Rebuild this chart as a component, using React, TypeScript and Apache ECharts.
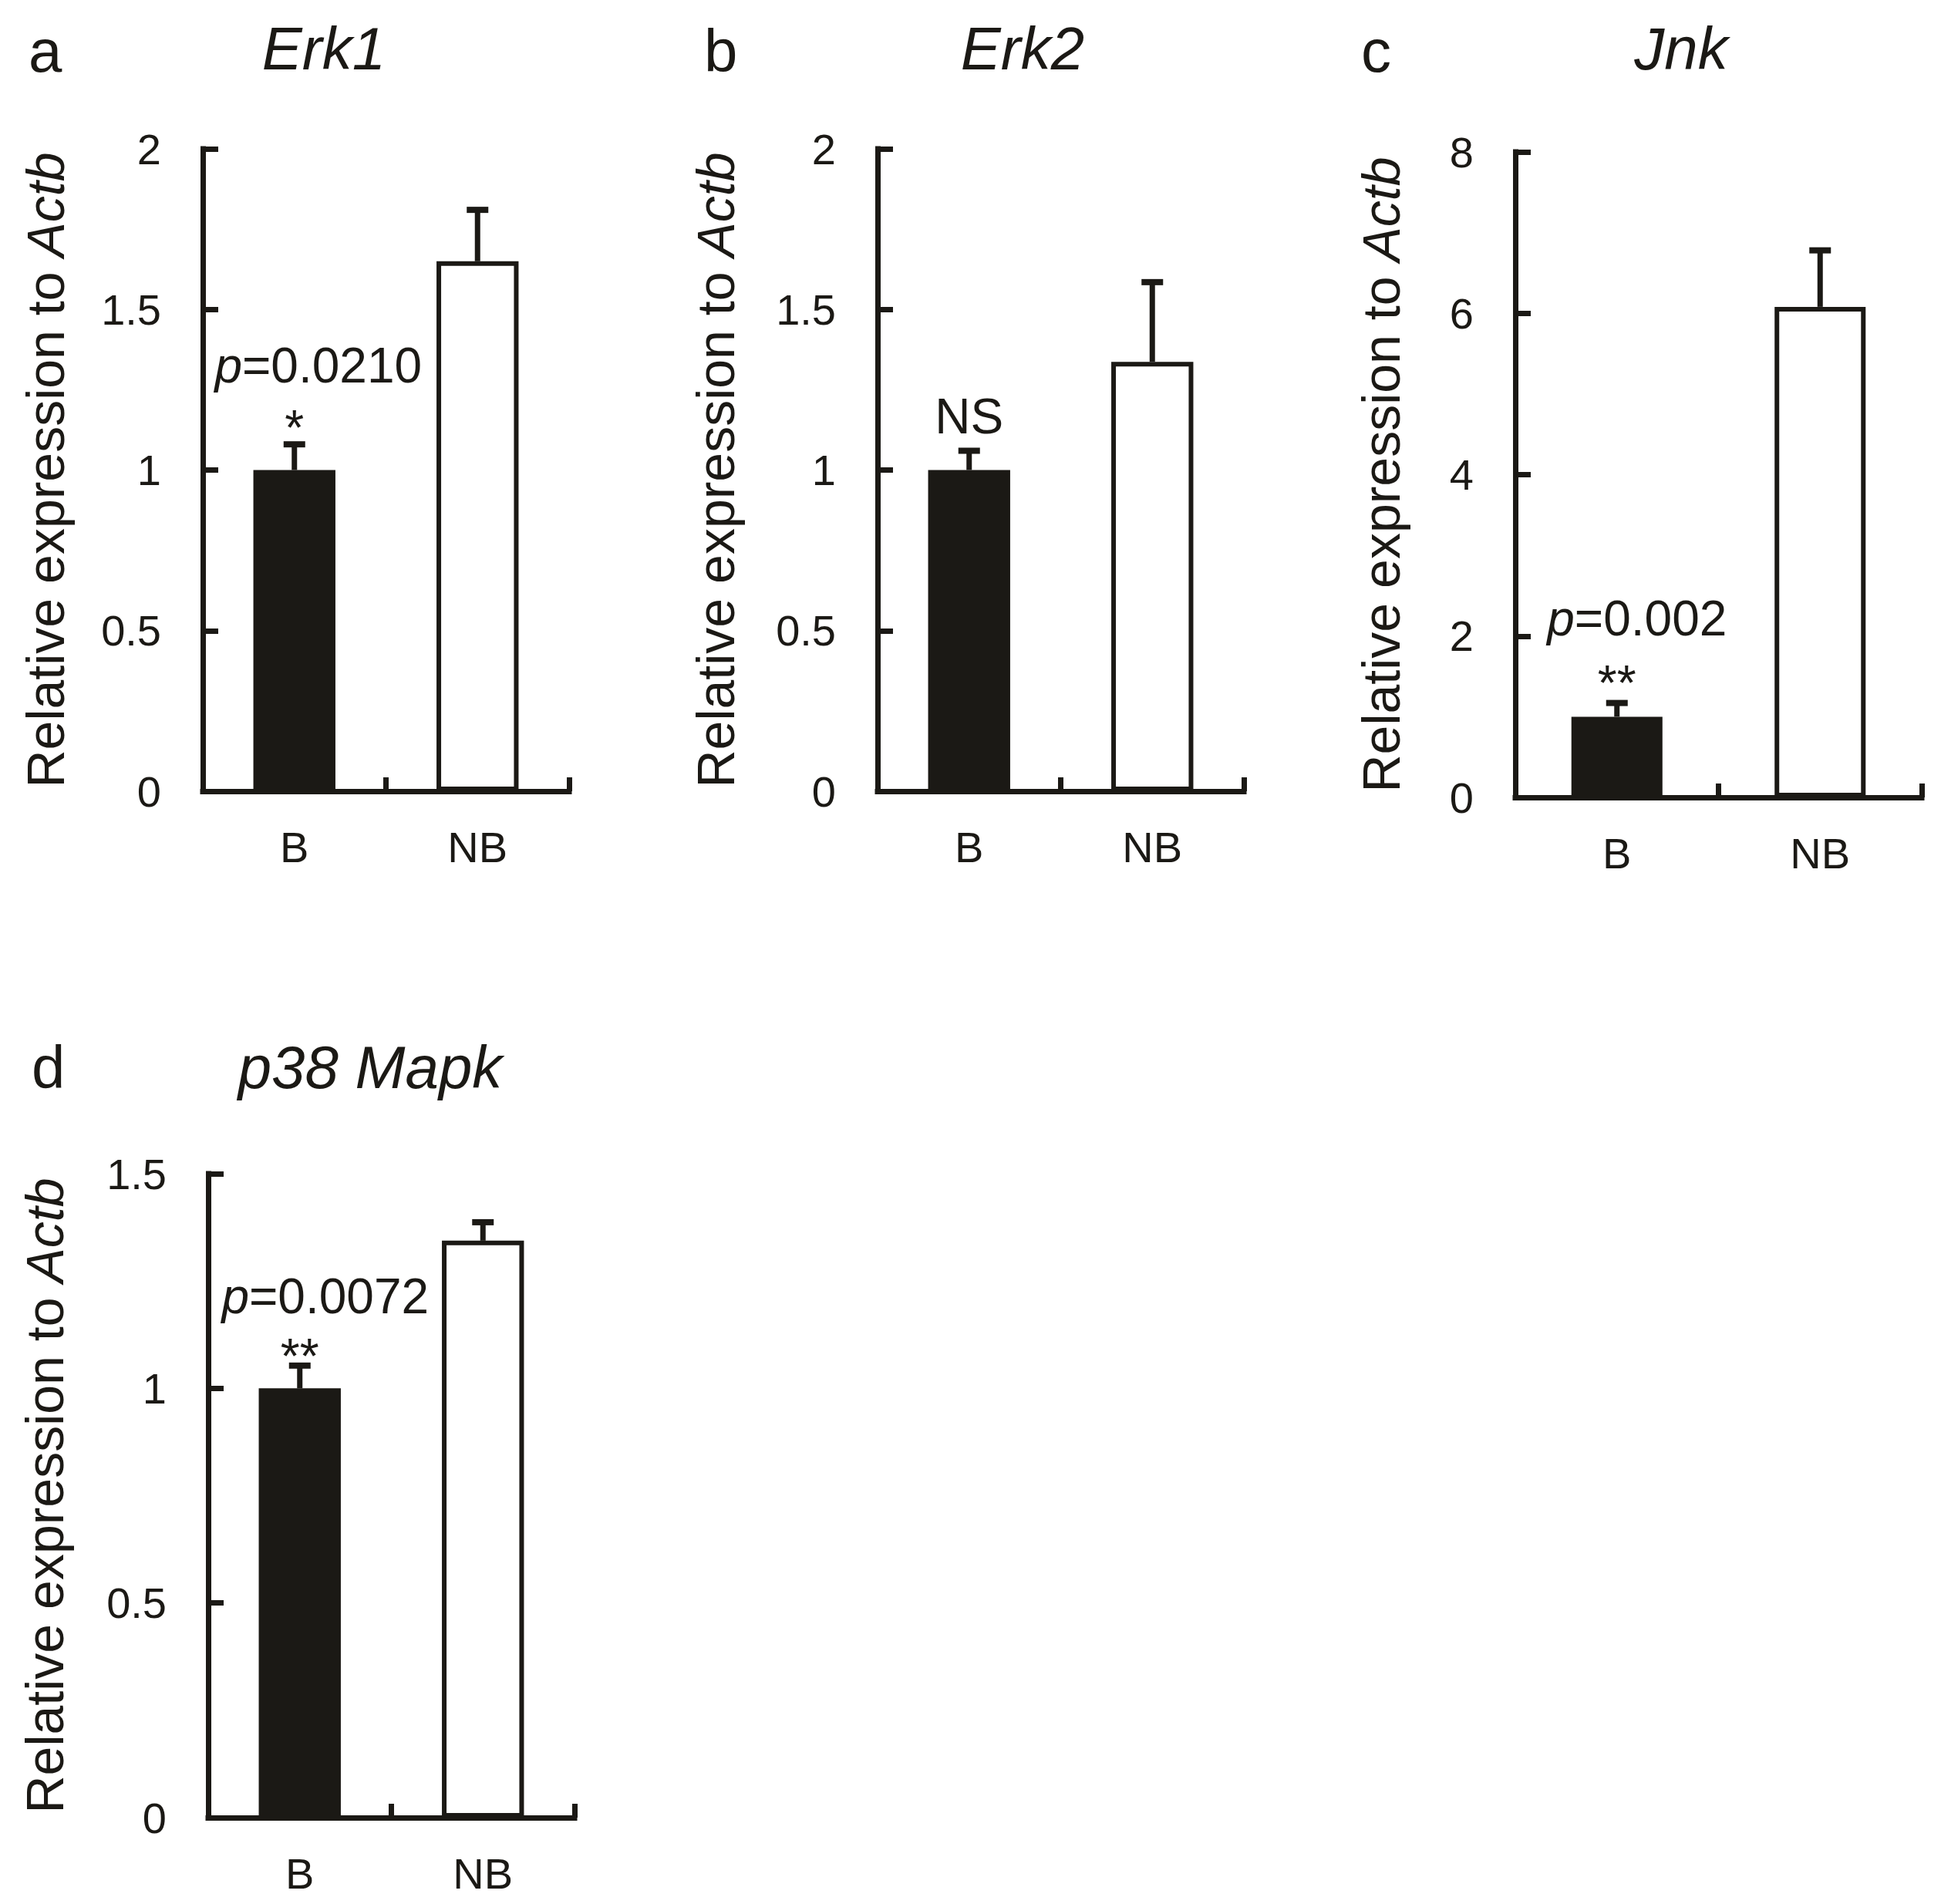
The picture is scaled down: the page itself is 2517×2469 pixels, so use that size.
import React, { useEffect, useRef } from "react";
import * as echarts from "echarts";

// ---- data ----
const categories = ["B", "NB"];

const erk1Mean = [1.0, 1.65];
const erk1ErrTop = [1.08, 1.81];
const erk1Ticks = [0, 0.5, 1, 1.5, 2];

const erk2Mean = [1.0, 1.337];
const erk2ErrTop = [1.06, 1.585];
const erk2Ticks = [0, 0.5, 1, 1.5, 2];

const jnkMean = [1.0, 6.08];
const jnkErrTop = [1.17, 6.78];
const jnkTicks = [0, 2, 4, 6, 8];

const p38Mean = [1.0, 1.344];
const p38ErrTop = [1.053, 1.387];
const p38Ticks = [0, 0.5, 1, 1.5];

const panelLetters = ["a", "b", "c", "d"];
const geneTitles = ["Erk1", "Erk2", "Jnk", "p38 Mapk"];
const pValueTexts = ["0.0210", "", "0.002", "0.0072"];
const sigMarks = ["*", "NS", "**", "**"];

// ---- layout / style ----
const INK = "#1b1915";
const FONT = "'Liberation Sans', Arial, Helvetica, sans-serif";

const layouts = [
  { grid: { left: 263, top: 193, width: 475, height: 833 }, letterX: 37, letterBase: 93, titleX: 420, titleBase: 90, nameGap: 170, sigUp: 35, pUp: 102, pDx: 31 },
  { grid: { left: 1138, top: 193, width: 475, height: 833 }, letterX: 913, letterBase: 93, titleX: 1326, titleBase: 90, nameGap: 176, sigUp: 45, pUp: 0, pDx: 0 },
  { grid: { left: 1965, top: 197, width: 527, height: 837 }, letterX: 1765, letterBase: 93, titleX: 2180, titleBase: 90, nameGap: 140, sigUp: 40, pUp: 110, pDx: 26 },
  { grid: { left: 270, top: 1522, width: 475, height: 835 }, letterX: 41, letterBase: 1411, titleX: 480, titleBase: 1411, nameGap: 178, sigUp: 26, pUp: 90, pDx: 33 },
];

const means = [erk1Mean, erk2Mean, jnkMean, p38Mean];
const errTops = [erk1ErrTop, erk2ErrTop, jnkErrTop, p38ErrTop];
const ticks = [erk1Ticks, erk2Ticks, jnkTicks, p38Ticks];

const TICK_FS = 56;
const NAME_FS = 68;
const ANN_FS = 64;
const HEAD_FS = 78;

function buildOption() {
  const grid: any[] = [];
  const xAxis: any[] = [];
  const yAxis: any[] = [];
  const series: any[] = [];
  const graphic: any[] = [];

  layouts.forEach((L, i) => {
    const t = ticks[i];
    grid.push({ ...L.grid, containLabel: false, outerBoundsMode: "none" });
    xAxis.push({
      type: "category",
      gridIndex: i,
      data: categories,
      axisLine: { show: true, lineStyle: { color: INK, width: 7, cap: "square" } },
      axisTick: { show: true, inside: true, length: 18, alignWithLabel: false, lineStyle: { color: INK, width: 7 } },
      axisLabel: { color: INK, fontSize: TICK_FS, fontFamily: FONT, margin: 44 },
      splitLine: { show: false },
    });
    yAxis.push({
      type: "value",
      gridIndex: i,
      min: t[0],
      max: t[t.length - 1],
      interval: t[1] - t[0],
      axisLine: { show: true, lineStyle: { color: INK, width: 7, cap: "square" } },
      axisTick: { show: true, inside: true, length: 20, lineStyle: { color: INK, width: 7 } },
      axisLabel: { color: INK, fontSize: TICK_FS, fontFamily: FONT, margin: 54 },
      splitLine: { show: false },
      name: "{n|Relative expression to }{i|Actb}",
      nameLocation: "middle",
      nameGap: L.nameGap,
      nameTextStyle: {
        color: INK,
        fontSize: NAME_FS,
        fontFamily: FONT,
        rich: {
          n: { fontSize: NAME_FS, fontFamily: FONT, color: INK },
          i: { fontSize: NAME_FS, fontFamily: FONT, color: INK, fontStyle: "italic" },
        },
      },
    });

    series.push({
      type: "bar",
      xAxisIndex: i,
      yAxisIndex: i,
      barWidth: "44.8%",
      z: 2,
      data: means[i].map((v, k) => ({
        value: v,
        itemStyle:
          k === 0
            ? { color: INK }
            : { color: "#ffffff", borderColor: INK, borderWidth: 6 },
      })),
    });

    series.push({
      type: "custom",
      xAxisIndex: i,
      yAxisIndex: i,
      z: 3,
      data: means[i].map((v, k) => [k, v, errTops[i][k]]),
      renderItem: (params: any, api: any) => {
        const base = api.coord([api.value(0), api.value(1)]);
        const top = api.coord([api.value(0), api.value(2)]);
        const style = { stroke: INK, lineWidth: 7, fill: null };
        return {
          type: "group",
          children: [
            { type: "line", shape: { x1: top[0], y1: base[1], x2: top[0], y2: top[1] }, style: { ...style, lineWidth: 7 } },
            { type: "line", shape: { x1: top[0] - 14, y1: top[1], x2: top[0] + 14, y2: top[1] }, style: { ...style, lineWidth: 8 } },
          ],
        };
      },
    });

    // significance annotation over the B bar, anchored to its error-bar top
    series.push({
      type: "custom",
      xAxisIndex: i,
      yAxisIndex: i,
      z: 4,
      data: [[0, errTops[i][0]]],
      renderItem: (params: any, api: any) => {
        const top = api.coord([api.value(0), api.value(1)]);
        const mark = sigMarks[i];
        const isStar = mark.indexOf("*") >= 0;
        const children: any[] = [
          {
            type: "text",
            x: top[0],
            y: top[1] - L.sigUp + (isStar ? 0.22 * ANN_FS : 0),
            style: { text: mark, fill: INK, fontSize: ANN_FS, fontFamily: FONT, align: "center", verticalAlign: "middle" },
          },
        ];
        if (pValueTexts[i]) {
          children.push({
            type: "text",
            x: top[0] + L.pDx,
            y: top[1] - L.pUp,
            style: {
              text: "{i|p}=" + pValueTexts[i],
              fill: INK,
              fontSize: ANN_FS,
              fontFamily: FONT,
              align: "center",
              verticalAlign: "middle",
              rich: {
                i: { fontSize: ANN_FS, fontFamily: FONT, fontStyle: "italic", fill: INK },
              },
            },
          });
        }
        return { type: "group", children };
      },
    });

    graphic.push({
      type: "text",
      x: L.letterX,
      y: L.letterBase - 0.3465 * HEAD_FS,
      style: { text: panelLetters[i], fill: INK, fontSize: HEAD_FS, fontFamily: FONT, align: "left", verticalAlign: "middle" },
    });
    graphic.push({
      type: "text",
      x: L.titleX,
      y: L.titleBase - 0.3465 * HEAD_FS,
      style: { text: geneTitles[i], fill: INK, fontSize: HEAD_FS, fontFamily: FONT, fontStyle: "italic", align: "center", verticalAlign: "middle" },
    });
  });

  return {
    animation: false,
    backgroundColor: "#ffffff",
    grid,
    xAxis,
    yAxis,
    series,
    graphic,
  };
}

export default function App() {
  const ref = useRef<HTMLDivElement>(null);
  useEffect(() => {
    if (!ref.current) return;
    const chart = echarts.init(ref.current, undefined, { renderer: "svg" });
    chart.setOption(buildOption() as any);
    return () => chart.dispose();
  }, []);
  return (
    <div
      ref={ref}
      style={{ position: "absolute", left: 0, top: 0, width: 2517, height: 2469, background: "#fff" }}
    />
  );
}
